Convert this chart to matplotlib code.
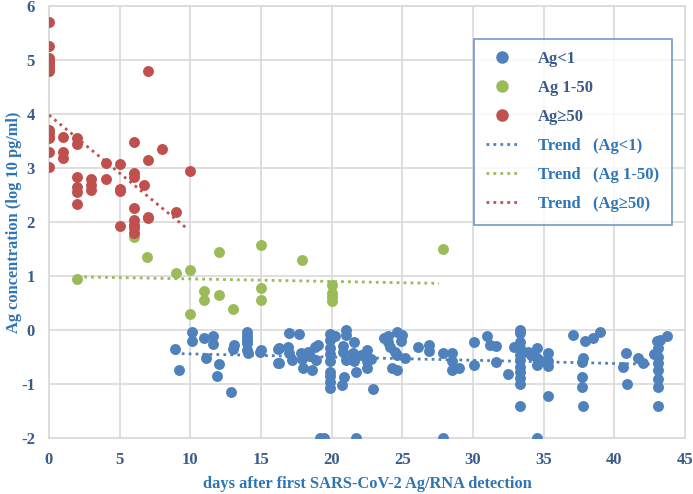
import matplotlib.pyplot as plt
import numpy as np
from matplotlib.lines import Line2D

# Ag<1 group (days, log10 concentration)
blue_x = [8.9, 9.2, 10.1, 10.1, 11.0, 11.6, 11.6, 11.1, 12.0, 11.9, 12.9, 13.1, 13.0,
          14.0, 14.0, 14.0, 14.0, 14.0, 14.1, 14.9, 15.0, 16.2, 16.2, 16.3, 16.3,
          16.9, 17.0, 17.7, 17.0, 17.2, 17.8, 17.9, 18.0, 18.3, 18.5, 18.6, 18.8,
          19.0, 18.9, 19.2, 19.45, 19.9, 19.9, 19.9, 19.9, 19.9, 19.9, 19.9, 19.9,
          19.9, 20.25, 21.0, 21.0, 20.8, 20.8, 21.0, 20.9, 20.7, 21.6, 21.5, 21.6,
          21.7, 21.7, 22.1, 22.5, 22.5, 22.5, 22.5, 22.8, 22.9, 23.7, 24.0, 24.0,
          24.1, 24.6, 25.0, 24.9, 24.5, 24.6, 24.3, 24.6, 25.2, 26.1, 26.9, 26.9,
          27.9, 28.5, 28.5, 28.5, 29.0, 27.9, 30.1, 30.1, 31.0, 31.2, 31.6, 31.6,
          32.5, 33.3, 33.3, 33.3, 32.9, 33.3, 33.3, 33.3, 33.3, 33.3, 33.3, 33.3,
          33.3, 33.9, 34.1, 34.5, 34.5, 34.5, 34.8, 35.3, 35.3, 35.3, 35.3, 34.5,
          37.1, 37.9, 38.5, 39.0, 37.8, 37.7, 37.7, 37.7, 37.8, 40.6, 40.8, 40.9,
          41.7, 42.0, 42.8, 43.0, 43.2, 43.75, 43.1, 43.1, 43.1, 43.1, 43.1, 43.1,
          43.1]
blue_y = [-0.36, -0.74, -0.04, -0.20, -0.14, -0.11, -0.26, -0.52, -0.63, -0.85, -1.15,
          -0.28, -0.36, -0.03, -0.12, -0.19, -0.25, -0.37, -0.42, -0.40, -0.37, -0.35,
          -0.62, -0.34, -0.61, -0.31, -0.05, -0.08, -0.43, -0.55, -0.43, -0.54, -0.71,
          -0.40, -0.49, -0.74, -0.31, -0.28, -0.55, -2.0, -2.0, -0.07, -0.19, -0.33,
          -0.45, -0.57, -0.77, -0.86, -0.96, -1.08, -0.12, 0.0, -0.09, -0.30, -0.40,
          -0.55, -0.88, -1.02, -0.23, -0.43, -0.58, -0.77, -2.0, -0.46, -0.37, -0.49,
          -0.58, -0.71, -0.53, -1.09, -0.15, -0.12, -0.22, -0.31, -0.03, -0.09, -0.20,
          -0.40, -0.46, -0.71, -0.74, -0.51, -0.31, -0.28, -0.39, -0.43, -0.42, -0.57,
          -0.74, -0.70, -2.0, -0.23, -0.64, -0.12, -0.28, -0.30, -0.60, -0.82, 0.0,
          -0.06, -0.22, -0.31, -0.34, -0.46, -0.56, -0.68, -0.77, -0.89, -1.0, -1.40,
          -0.40, -0.46, -0.34, -0.52, -0.65, -0.58, -0.43, -0.58, -0.66, -1.22, -2.0,
          -0.09, -0.20, -0.14, -0.03, -0.51, -0.60, -0.88, -1.05, -1.40, -0.68, -0.42,
          -1.0, -0.51, -0.62, -0.45, -0.21, -0.19, -0.11, -0.34, -0.50, -0.62, -0.74,
          -0.90, -1.05, -1.40]

# Ag 1-50 group
green_x = [2, 6, 6.9, 9, 10, 11, 11, 12, 12, 13, 10, 15, 15, 15, 17.9, 20, 20, 20, 20, 27.9]
green_y = [0.94, 1.72, 1.35, 1.06, 1.11, 0.72, 0.55, 1.44, 0.64, 0.38, 0.30, 1.57, 0.77,
           0.56, 1.30, 0.83, 0.68, 0.54, 0.61, 1.50]

# Ag>=50 group
red_x = [0, 0, 0, 0, 0, 0, 0, 0, 0, 0, 0, 0, 0, 0, 0, 1, 1, 1, 2, 2, 2, 2, 2, 2, 3, 3, 3,
         4, 4, 5, 5, 5, 5, 6, 6, 6, 6, 6, 6, 6, 6, 7, 7, 7, 7, 6.7, 8, 9, 10]
red_y = [5.71, 5.26, 5.03, 4.95, 4.88, 4.80, 3.70, 3.64, 3.58, 3.55, 3.29, 3.02, 4.98,
         4.85, 5.0, 3.57, 3.30, 3.19, 3.55, 3.45, 2.83, 2.65, 2.56, 2.33, 2.80, 2.68,
         2.60, 3.10, 2.80, 3.07, 2.61, 2.57, 1.93, 3.49, 2.91, 2.84, 2.25, 2.03, 1.95,
         1.88, 1.80, 4.80, 3.15, 2.10, 2.07, 2.69, 3.35, 2.18, 2.94]

blue_c = "#4F81BD"
green_c = "#9BBB59"
red_c = "#C0504D"
tick_c = "#3A5A8C"
label_c = "#2E75B6"

plt.rcParams['font.family'] = ['Liberation Serif', 'DejaVu Serif']
plt.rcParams['font.weight'] = 'bold'
plt.rcParams['axes.unicode_minus'] = False

fig = plt.figure(figsize=(6.93, 4.94), dpi=100)
ax = fig.add_axes([0.0707, 0.1134, 0.9177, 0.8745])

ax.scatter(blue_x, blue_y, s=62, color=blue_c, zorder=3, linewidths=0)
ax.scatter(green_x, green_y, s=62, color=green_c, zorder=3, linewidths=0)
ax.scatter(red_x, red_y, s=62, color=red_c, zorder=3, linewidths=0)

# linear trend lines over each group's x range
for xs, ys, c in [(blue_x, blue_y, blue_c), (green_x, green_y, green_c), (red_x, red_y, red_c)]:
    k, b = np.polyfit(xs, ys, 1)
    xx = np.array([min(xs), max(xs) - 0.3])
    ax.plot(xx, k * xx + b, linestyle=(0, (1, 1.5)), color=c, lw=2, zorder=4)

ax.set_xlim(0, 45)
ax.set_ylim(-2, 6)
ax.set_xticks(range(0, 46, 5))
ax.set_yticks(range(-2, 7))
ax.grid(True, color="#D9D9D9", lw=1.2)
ax.set_axisbelow(True)
for s in ax.spines.values():
    s.set_color("#D9D9D9")
    s.set_linewidth(1.2)
ax.tick_params(length=0, labelsize=12, labelcolor=tick_c, pad=10)
for t in ax.get_xticklabels() + ax.get_yticklabels():
    t.set_fontweight('bold')

ax.set_xlabel("days after first SARS-CoV-2 Ag/RNA detection", fontsize=11.8,
              color=label_c, fontweight='bold', labelpad=6)
ax.set_ylabel("Ag concentration (log 10 pg/ml)", fontsize=11.8, color=label_c,
              fontweight='bold', labelpad=-1)

handles = [
    Line2D([], [], marker='o', ls='none', color=blue_c, markersize=8),
    Line2D([], [], marker='o', ls='none', color=green_c, markersize=8),
    Line2D([], [], marker='o', ls='none', color=red_c, markersize=8),
    Line2D([], [], ls=(0, (1, 1.5)), color=blue_c, lw=2),
    Line2D([], [], ls=(0, (1, 1.5)), color=green_c, lw=2),
    Line2D([], [], ls=(0, (1, 1.5)), color=red_c, lw=2),
]
labels = ["Ag<1", "Ag 1-50", "Ag≥50", "Trend   (Ag<1)", "Trend   (Ag 1-50)",
          "Trend   (Ag≥50)"]
leg = ax.legend(handles, labels, loc='upper left', bbox_to_anchor=(0.668, 0.924),
                frameon=True, fancybox=False, edgecolor=blue_c,
                labelspacing=0.78, handlelength=1.9, borderpad=0.75, handletextpad=1.2,
                borderaxespad=0, prop={'weight': 'bold', 'size': 12})
leg.get_frame().set_linewidth(1.2)
for i, t in enumerate(leg.get_texts()):
    t.set_color(tick_c if i < 3 else label_c)

fig.savefig("out.png", dpi=100)
